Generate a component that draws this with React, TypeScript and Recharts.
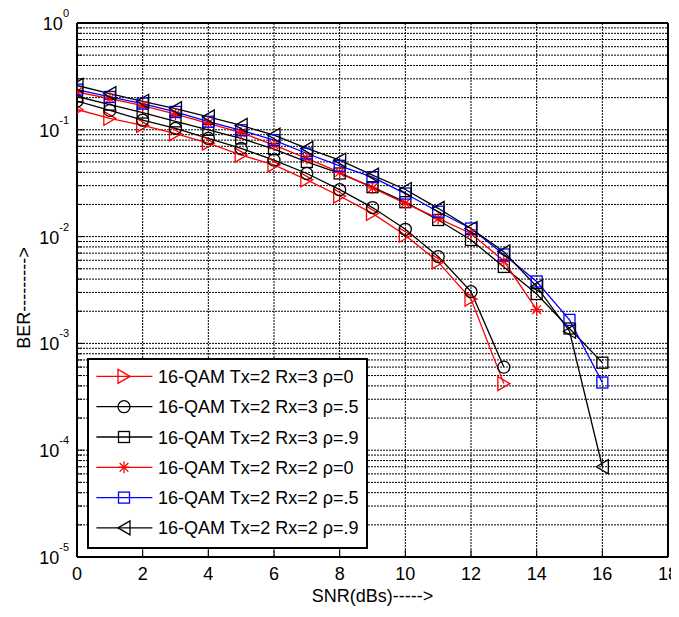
import React from 'react';
import { LineChart, Line, XAxis, YAxis, CartesianGrid, Legend, ReferenceLine } from 'recharts';

const snrValues = [0, 1, 2, 3, 4, 5, 6, 7, 8, 9, 10, 11, 12, 13, 14, 15, 16];

const berTx2Rx3Rho0 = [0.155, 0.128, 0.110, 0.092, 0.075, 0.058, 0.047, 0.034, 0.024, 0.0165, 0.0103, 0.0058, 0.0026, 0.00042];
const berTx2Rx3Rho05 = [0.186, 0.152, 0.123, 0.103, 0.083, 0.067, 0.052, 0.039, 0.0275, 0.0187, 0.0117, 0.0065, 0.00305, 0.0006];
const berTx2Rx3Rho09 = [0.205, 0.172, 0.145, 0.12, 0.1, 0.083, 0.066, 0.05, 0.039, 0.029, 0.021, 0.0143, 0.0093, 0.0052, 0.0029, 0.00138, 0.00066];
const berTx2Rx2Rho0 = [0.226, 0.196, 0.168, 0.14, 0.115, 0.094, 0.072, 0.054, 0.04, 0.0285, 0.0205, 0.0148, 0.0107, 0.0059, 0.00207];
const berTx2Rx2Rho05 = [0.238, 0.203, 0.176, 0.147, 0.119, 0.099, 0.08, 0.06, 0.046, 0.036, 0.0253, 0.0171, 0.0119, 0.0068, 0.0038, 0.00166, 0.00043];
const berTx2Rx2Rho09 = [0.26, 0.218, 0.185, 0.158, 0.132, 0.11, 0.089, 0.067, 0.052, 0.0376, 0.0276, 0.0184, 0.0119, 0.0072, 0.0034, 0.0013, 0.00007];

const seriesNames = [
  '16-QAM Tx=2 Rx=3 ρ=0',
  '16-QAM Tx=2 Rx=3 ρ=.5',
  '16-QAM Tx=2 Rx=3 ρ=.9',
  '16-QAM Tx=2 Rx=2 ρ=0',
  '16-QAM Tx=2 Rx=2 ρ=.5',
  '16-QAM Tx=2 Rx=2 ρ=.9',
];

const xTicks = [0, 2, 4, 6, 8, 10, 12, 14, 16, 18];
const yDecadeExponents = [-5, -4, -3, -2, -1];
const yMantissas = [1, 2, 3, 4, 5, 6, 7, 8, 9];
const yTicks: number[] = [];
yDecadeExponents.forEach((e) => yMantissas.forEach((m) => yTicks.push(Number((m * Math.pow(10, e)).toPrecision(6)))));
yTicks.push(1);

const FONT = '"Liberation Sans", Arial, Helvetica, sans-serif';

type MarkerKind = 'triR' | 'circle' | 'square' | 'star' | 'triL';

const seriesList: { key: string; name: string; color: string; marker: MarkerKind; values: number[] }[] = [
  { key: 's1', name: seriesNames[0], color: '#ff0000', marker: 'triR', values: berTx2Rx3Rho0 },
  { key: 's2', name: seriesNames[1], color: '#000000', marker: 'circle', values: berTx2Rx3Rho05 },
  { key: 's3', name: seriesNames[2], color: '#000000', marker: 'square', values: berTx2Rx3Rho09 },
  { key: 's4', name: seriesNames[3], color: '#ff0000', marker: 'star', values: berTx2Rx2Rho0 },
  { key: 's5', name: seriesNames[4], color: '#0000ff', marker: 'square', values: berTx2Rx2Rho05 },
  { key: 's6', name: seriesNames[5], color: '#000000', marker: 'triL', values: berTx2Rx2Rho09 },
];

const data = snrValues.map((s, i) => {
  const row: Record<string, number | null> = { snr: s };
  seriesList.forEach((sr) => {
    row[sr.key] = i < sr.values.length ? sr.values[i] : null;
  });
  return row;
});

function MarkerShape({ kind, cx, cy, color }: { kind: MarkerKind; cx: number; cy: number; color: string }) {
  const common = { fill: 'none', stroke: color, strokeWidth: 1.3 };
  switch (kind) {
    case 'triR':
      return <polygon points={`${cx + 6},${cy} ${cx - 6},${cy - 7} ${cx - 6},${cy + 7}`} {...common} />;
    case 'triL':
      return <polygon points={`${cx - 6},${cy} ${cx + 6},${cy - 7} ${cx + 6},${cy + 7}`} {...common} />;
    case 'circle':
      return <circle cx={cx} cy={cy} r={6} {...common} />;
    case 'square':
      return <rect x={cx - 5.5} y={cy - 5.5} width={11} height={11} {...common} />;
    case 'star': {
      const s = 6;
      const d = 4.3;
      return (
        <g {...common}>
          <line x1={cx} y1={cy - s} x2={cx} y2={cy + s} />
          <line x1={cx - s} y1={cy} x2={cx + s} y2={cy} />
          <line x1={cx - d} y1={cy - d} x2={cx + d} y2={cy + d} />
          <line x1={cx - d} y1={cy + d} x2={cx + d} y2={cy - d} />
        </g>
      );
    }
    default:
      return null;
  }
}

const isDecade = (v: number) => {
  const l = Math.log10(v);
  return Math.abs(l - Math.round(l)) < 1e-6;
};

const Y_TICK_MARGIN = 8;
const X_TICK_MARGIN = 10;

function YTick(props: any) {
  const { x, y, payload } = props;
  const v = payload.value as number;
  const axisX = x + Y_TICK_MARGIN;
  const dec = isDecade(v);
  const len = dec ? 7 : 5;
  return (
    <g>
      <line x1={axisX} y1={y} x2={axisX + len} y2={y} stroke="#000" strokeWidth={1} />
      {dec && (
        <text x={x} y={y + 7} textAnchor="end" fontFamily={FONT} fill="#000">
          <tspan fontSize={18}>10</tspan>
          <tspan fontSize={11} dy={-13}>{String(Math.round(Math.log10(v)))}</tspan>
        </text>
      )}
    </g>
  );
}

function XTick(props: any) {
  const { x, y, payload } = props;
  const axisY = y - X_TICK_MARGIN;
  return (
    <g>
      <line x1={x} y1={axisY} x2={x} y2={axisY - 7} stroke="#000" strokeWidth={1} />
      <text x={x} y={y + 13} textAnchor="middle" fontFamily={FONT} fontSize={18} fill="#000">
        {payload.value}
      </text>
    </g>
  );
}

const renderBerLabel = (props: any) => {
  const vb = props.viewBox || { x: 9, y: 15, width: 60, height: 534 };
  const cx = vb.x + 7;
  const cy = vb.y + vb.height / 2 + 8;
  return (
    <text
      x={cx}
      y={cy}
      transform={`rotate(-90, ${cx}, ${cy})`}
      textAnchor="middle"
      dominantBaseline="central"
      fontFamily={FONT}
      fontSize={18}
      fill="#000"
    >
      BER---------{'>'}
    </text>
  );
};

const renderSnrLabel = (props: any) => {
  const vb = props.viewBox || { x: 69, y: 549, width: 592, height: 45 };
  const cx = vb.x + vb.width / 2;
  return (
    <text x={cx} y={vb.y + 45} textAnchor="middle" fontFamily={FONT} fontSize={18} fill="#000">
      SNR(dBs)-----{'>'}
    </text>
  );
};

const renderLegend = () => (
  <svg width={281} height={191} style={{ display: 'block' }}>
    <rect x={1} y={1} width={279} height={189} fill="#fff" stroke="#000" strokeWidth={2} />
    {seriesList.map((sr, i) => {
      const y = 18.4 + i * 30.3;
      return (
        <g key={sr.key}>
          <line x1={9.4} x2={65.4} y1={y} y2={y} stroke={sr.color} strokeWidth={1.3} />
          <MarkerShape kind={sr.marker} cx={37} cy={y} color={sr.color} />
          <text x={71} y={y + 6.5} fontFamily={FONT} fontSize={18} fill="#000">
            {sr.name}
          </text>
        </g>
      );
    })}
  </svg>
);

export default function App() {
  return (
    <div style={{ width: 671, height: 600 }}>
      <LineChart width={671} height={600} data={data} margin={{ top: 15, right: 11, bottom: 6, left: 9 }}>
        <CartesianGrid stroke="#000" strokeDasharray="2 1" strokeWidth={1} />
        <XAxis
          dataKey="snr"
          type="number"
          domain={[0, 18]}
          ticks={xTicks}
          interval={0}
          height={45}
          tickSize={0}
          tickMargin={X_TICK_MARGIN}
          tickLine={false}
          tick={<XTick />}
          axisLine={{ stroke: '#000', strokeWidth: 2 }}
          allowDataOverflow
          label={renderSnrLabel}
        />
        <YAxis
          type="number"
          scale="log"
          domain={[0.00001, 1]}
          ticks={yTicks}
          interval={0}
          width={60}
          tickSize={0}
          tickMargin={Y_TICK_MARGIN}
          tickLine={false}
          tick={<YTick />}
          axisLine={{ stroke: '#000', strokeWidth: 2 }}
          allowDataOverflow
          label={renderBerLabel}
        />
        <ReferenceLine y={1} stroke="#000" strokeWidth={2} />
        <ReferenceLine x={18} stroke="#000" strokeWidth={2} />
        {seriesList.map((sr) => (
          <Line
            key={sr.key}
            dataKey={sr.key}
            name={sr.name}
            stroke={sr.color}
            strokeWidth={1.3}
            isAnimationActive={false}
            connectNulls={false}
            dot={(p: any) => {
              if (p.cx == null || p.cy == null || p.value == null) return <g key={`${sr.key}-${p.index}`} />;
              return (
                <g key={`${sr.key}-${p.index}`}>
                  <MarkerShape kind={sr.marker} cx={p.cx} cy={p.cy} color={sr.color} />
                </g>
              );
            }}
            activeDot={false}
          />
        ))}
        <Legend
          layout="vertical"
          align="center"
          verticalAlign="middle"
          content={renderLegend}
          wrapperStyle={{ position: 'absolute', left: 79, top: 350, width: 281, height: 191 }}
        />
      </LineChart>
    </div>
  );
}
